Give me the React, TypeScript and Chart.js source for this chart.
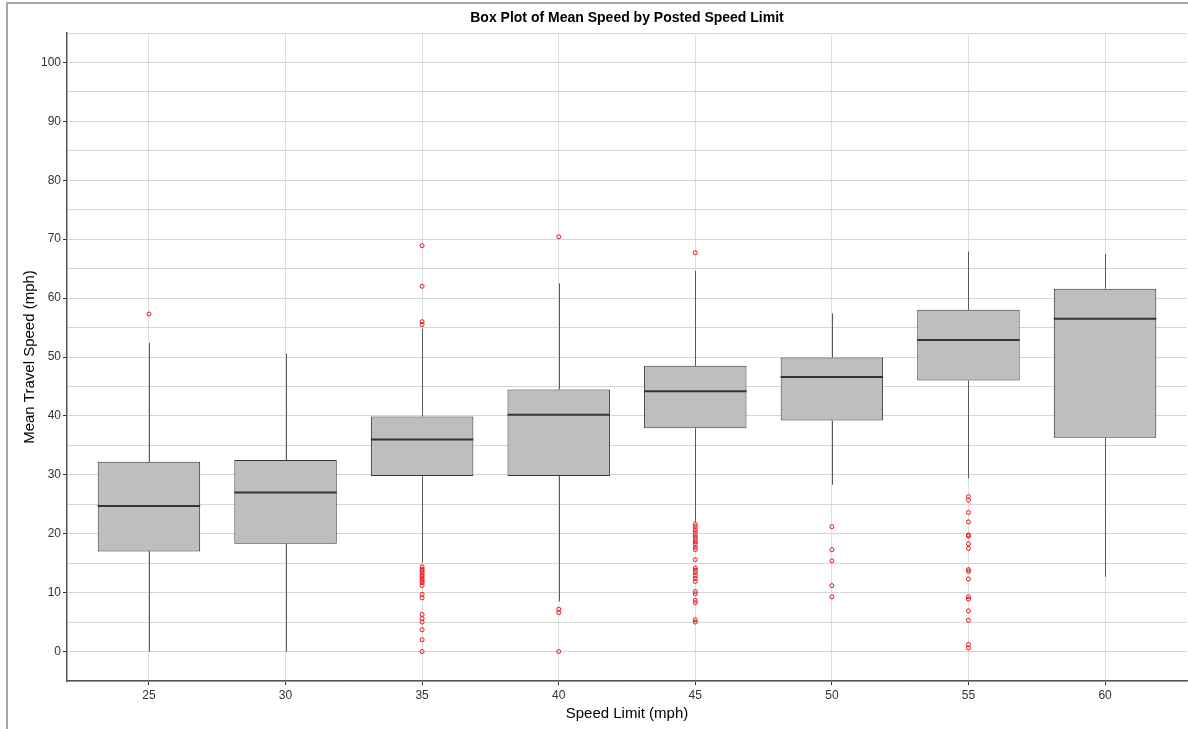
import React, { useEffect, useRef } from "react";
import Chart from "chart.js/auto";

const TITLE = "Box Plot of Mean Speed by Posted Speed Limit";
const X_TITLE = "Speed Limit (mph)";
const Y_TITLE = "Mean Travel Speed (mph)";

const categories = [25, 30, 35, 40, 45, 50, 55, 60];
const q1 = [17.0, 18.3, 29.8, 29.8, 37.9, 39.2, 46.0, 36.3];
const median = [24.7, 27.0, 36.0, 40.2, 44.2, 46.6, 52.9, 56.5];
const q3 = [32.2, 32.5, 39.9, 44.5, 48.5, 49.9, 58.0, 61.6];
const whiskerLow = [0, 0, 15.1, 8.5, 22.0, 28.3, 29.4, 12.7];
const whiskerHigh = [52.4, 50.6, 54.8, 62.5, 64.6, 57.4, 67.9, 67.5];

const out25 = [57.3];
const out30: number[] = [];
const out35 = [68.9, 62.0, 56.0, 55.5, 14.4, 14.0, 13.7, 13.4, 13.0, 12.7, 12.3, 12.0, 11.7, 11.2, 9.7, 9.1, 6.3, 5.6, 5.0, 3.7, 2.0, 0];
const out40 = [70.4, 7.2, 6.6, 0];
const out45 = [67.7, 21.6, 21.2, 20.7, 20.3, 19.8, 19.4, 19.0, 18.6, 18.2, 17.7, 17.3, 15.6, 14.2, 13.8, 13.4, 12.9, 12.4, 11.9, 10.2, 9.8, 8.7, 8.3, 5.4, 5.0];
const out50 = [21.2, 17.3, 15.4, 11.2, 9.3];
const out55 = [26.3, 25.7, 23.6, 22.0, 19.8, 19.6, 18.3, 17.5, 13.9, 13.6, 12.3, 9.3, 8.9, 6.9, 5.3, 1.2, 0.6];
const out60: number[] = [];
const outliers = [out25, out30, out35, out40, out45, out50, out55, out60];

const yTicksMajor = [0, 10, 20, 30, 40, 50, 60, 70, 80, 90, 100];
const Y_MIN = -5;
const Y_MAX = 105;

const FONT = "'Liberation Sans', Arial, sans-serif";

export default function App() {
  const ref = useRef<HTMLCanvasElement | null>(null);

  useEffect(() => {
    if (!ref.current) return;
    const step = categories[1] - categories[0];
    const xMin = categories[0] - 0.6 * step;
    const xMax = categories[categories.length - 1] + 0.6 * step;

    const boxData = categories.map((c, i) => ({ x: c, y: [q1[i], q3[i]] }));
    const outData: { x: number; y: number }[] = [];
    categories.forEach((c, i) => outliers[i].forEach((v) => outData.push({ x: c, y: v })));

    const whiskerPlugin = {
      id: "whiskers",
      beforeDatasetsDraw(chart: any) {
        const { ctx } = chart;
        const xs = chart.scales.x;
        const ys = chart.scales.y;
        ctx.save();
        ctx.strokeStyle = "#595959";
        ctx.lineWidth = 1;
        categories.forEach((c, i) => {
          const px = Math.round(xs.getPixelForValue(c)) + 0.5;
          ctx.beginPath();
          ctx.moveTo(px, ys.getPixelForValue(whiskerHigh[i]));
          ctx.lineTo(px, ys.getPixelForValue(q3[i]));
          ctx.moveTo(px, ys.getPixelForValue(q1[i]));
          ctx.lineTo(px, ys.getPixelForValue(whiskerLow[i]));
          ctx.stroke();
        });
        ctx.restore();
      },
      afterDatasetDraw(chart: any, args: any) {
        if (args.index !== 0) return;
        const { ctx } = chart;
        const ys = chart.scales.y;
        const meta = chart.getDatasetMeta(0);
        ctx.save();
        ctx.strokeStyle = "#333333";
        ctx.lineWidth = 2;
        meta.data.forEach((bar: any, i: number) => {
          const py = ys.getPixelForValue(median[i]);
          ctx.beginPath();
          ctx.moveTo(bar.x - bar.width / 2, py);
          ctx.lineTo(bar.x + bar.width / 2, py);
          ctx.stroke();
        });
        ctx.restore();
      },
    };

    const textPlugin = {
      id: "texts",
      afterDraw(chart: any) {
        const { ctx, chartArea: a } = chart;
        ctx.save();
        ctx.fillStyle = "#000";
        ctx.textAlign = "center";
        ctx.textBaseline = "middle";
        ctx.font = `bold 14px ${FONT}`;
        ctx.fillText(TITLE, (a.left + a.right) / 2, 18);
        ctx.font = `15px ${FONT}`;
        ctx.fillText(X_TITLE, (a.left + a.right) / 2, 714);
        ctx.translate(30, (a.top + a.bottom) / 2);
        ctx.rotate(-Math.PI / 2);
        ctx.fillText(Y_TITLE, 0, 0);
        ctx.restore();
      },
    };

    const chart = new Chart(ref.current, {
      type: "bar",
      data: {
        datasets: [
          {
            type: "bar",
            data: boxData as any,
            backgroundColor: "#bebebe",
            borderColor: "#333333",
            borderWidth: 1,
            borderSkipped: false,
            barPercentage: 0.75,
            categoryPercentage: 1,
            grouped: false,
            order: 2,
          } as any,
          {
            type: "scatter",
            data: outData,
            pointStyle: "circle",
            pointRadius: 2,
            pointBorderWidth: 1,
            pointBorderColor: "#e8141c",
            pointBackgroundColor: "rgba(255,255,255,0)",
            showLine: false,
            order: 1,
          } as any,
        ],
      },
      options: {
        responsive: false,
        animation: false,
        layout: { autoPadding: false, padding: { top: 33, left: 0, right: 1, bottom: 0 } },
        plugins: {
          legend: { display: false },
          title: { display: false },
          tooltip: { enabled: false },
        },
        scales: {
          x: {
            type: "linear",
            min: xMin,
            max: xMax,
            offset: false,
            afterBuildTicks: (scale: any) => {
              scale.ticks = categories.map((v) => ({ value: v }));
            },
            afterFit: (scale: any) => {
              scale.height = 48;
              scale.paddingLeft = 0;
              scale.paddingRight = 0;
            },
            grid: {
              offset: false,
              color: "#dedede",
              lineWidth: 1,
              tickLength: 4,
              tickColor: "#333333",
            },
            border: { display: true, color: "#555555", width: 1.5 },
            ticks: {
              color: "#333333",
              font: { size: 12, family: FONT },
              padding: 3,
              maxRotation: 0,
              callback: (v: any) => String(v),
            },
          },
          y: {
            type: "linear",
            min: Y_MIN,
            max: Y_MAX,
            afterFit: (scale: any) => {
              scale.width = 67;
              scale.paddingTop = 0;
              scale.paddingBottom = 0;
            },
            ticks: {
              stepSize: 5,
              color: "#333333",
              font: { size: 12, family: FONT },
              padding: 2,
              callback: (v: any) => (yTicksMajor.includes(Number(v)) ? String(v) : ""),
            },
            grid: {
              color: "#d6d6d6",
              lineWidth: 1,
              tickLength: 4,
              tickColor: (c: any) =>
                c.tick && yTicksMajor.includes(c.tick.value) ? "#333333" : "rgba(0,0,0,0)",
            },
            border: { display: true, color: "#555555", width: 1.5 },
          },
        },
      },
      plugins: [whiskerPlugin, textPlugin],
    });
    return () => chart.destroy();
  }, []);

  return (
    <div style={{ position: "absolute", left: 0, top: 0, width: 1188, height: 729, background: "#fff" }}>
      <div
        style={{
          position: "absolute",
          left: 6,
          top: 2,
          width: 1200,
          height: 740,
          borderLeft: "2px solid #a6a6a6",
          borderTop: "2px solid #a6a6a6",
          boxSizing: "border-box",
        }}
      />
      <canvas ref={ref} width={1188} height={729} style={{ position: "absolute", left: 0, top: 0, display: "block" }} />
    </div>
  );
}
